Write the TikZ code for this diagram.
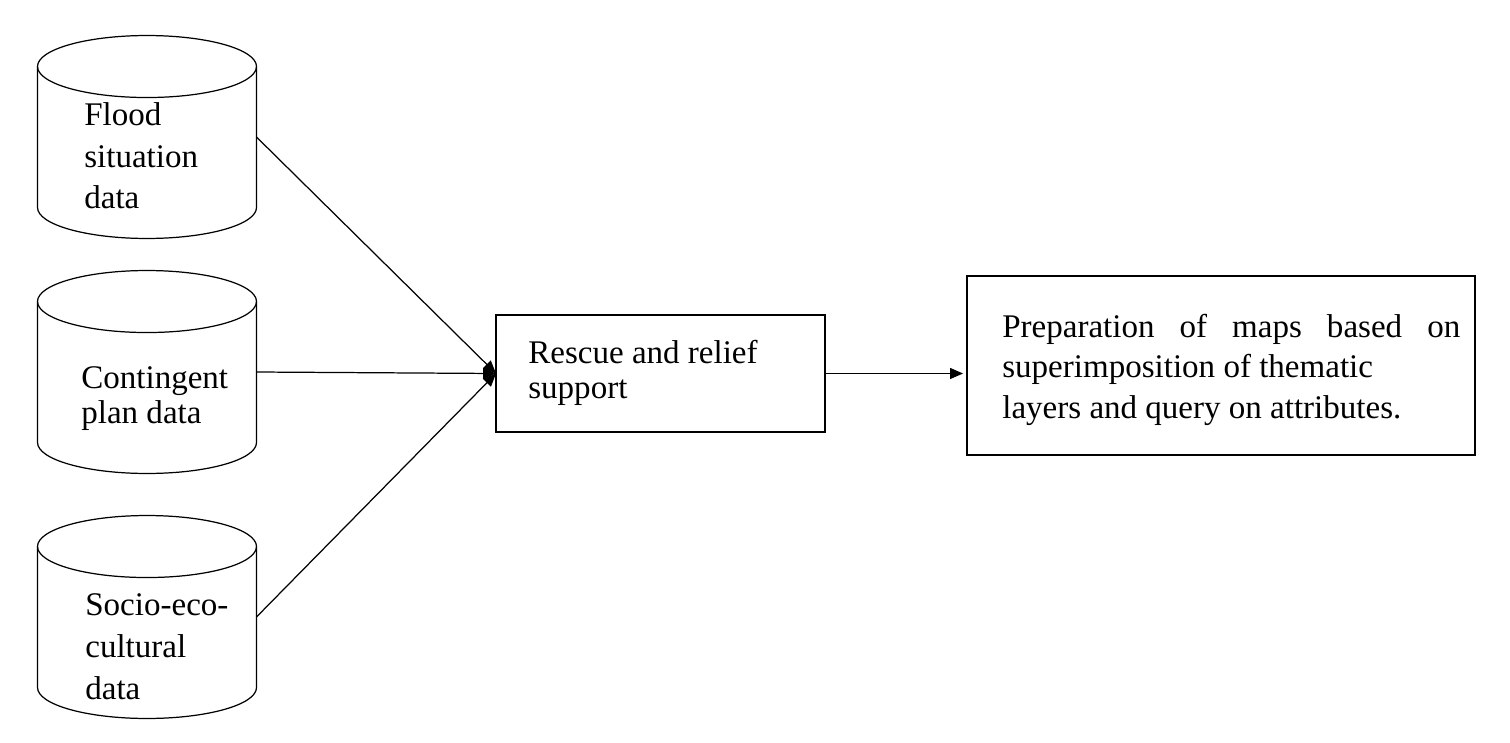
\documentclass[tikz,border=0pt]{standalone}
\usepackage{fontspec}
\setmainfont{Liberation Serif}
\usetikzlibrary{arrows.meta,positioning,calc}

\begin{document}
\begin{tikzpicture}[x=0.02cm,y=-0.02cm,
    dbcyl/.style={minimum width=4.38cm, minimum height=4.06cm, inner sep=0pt, outer sep=0pt},
    dbline/.style={line width=0.7pt},
    procbox/.style={draw, line width=0.7pt, rectangle, inner sep=0pt, outer sep=0pt},
    lbl/.style={font=\fontsize{18.8}{#1}\selectfont, align=left, inner sep=0pt, anchor=base west},
    flow/.style={line width=0.7pt, -{Triangle[length=0.26cm,width=0.22cm]}}]
  \useasboundingbox (0,0) rectangle (1510,743);

  % data stores
  \node[dbcyl] (flooddb) at (147,137) {};
  \node[dbcyl] (plandb) at (147,372) {};
  \node[dbcyl] (sociodb) at (147,617) {};
  \foreach \n in {flooddb,plandb,sociodb}{
    \draw[dbline] ($(\n.north west)+(0,31)$) -- ($(\n.south west)+(0,-31)$)
      arc[start angle=180, end angle=0, x radius=109.5, y radius=31]
      -- ($(\n.north east)+(0,31)$);
    \draw[dbline] ($(\n.north)+(0,31)$) ellipse (109.5 and 31);
  }
  \node[lbl=23.9pt] (floodtxt) at (84,209) {Flood\\situation\\data};
  \node[lbl=19.9pt] (plantxt) at (81,423) {Contingent\\plan data};
  \node[lbl=23.9pt] (sociotxt) at (85,699) {Socio-eco-\\cultural\\data};

  % processing boxes
  \node[procbox, minimum width=6.58cm, minimum height=2.34cm] (rescue) at (660.5,373.5) {};
  \node[procbox, minimum width=10.16cm, minimum height=3.58cm] (maps) at (1221,365.5) {};
  \node[lbl=19.9pt] (rescuetxt) at (528,398) {Rescue and relief\\support};
  \node[lbl=22.8pt] (mapstxt) at (1002,418)
    {\makebox[9.16cm][s]{Preparation of maps based on}\\superimposition of thematic\\layers and query on attributes.};

  % connectors
  \draw[flow] (flooddb.east) -- (rescue.west);
  \draw[flow] (plandb.east) -- (rescue.west);
  \draw[flow] (sociodb.east) -- (rescue.west);
  \draw[flow, shorten >=0.08cm] (rescue.east) -- (rescue.east -| maps.west);
\end{tikzpicture}
\end{document}
